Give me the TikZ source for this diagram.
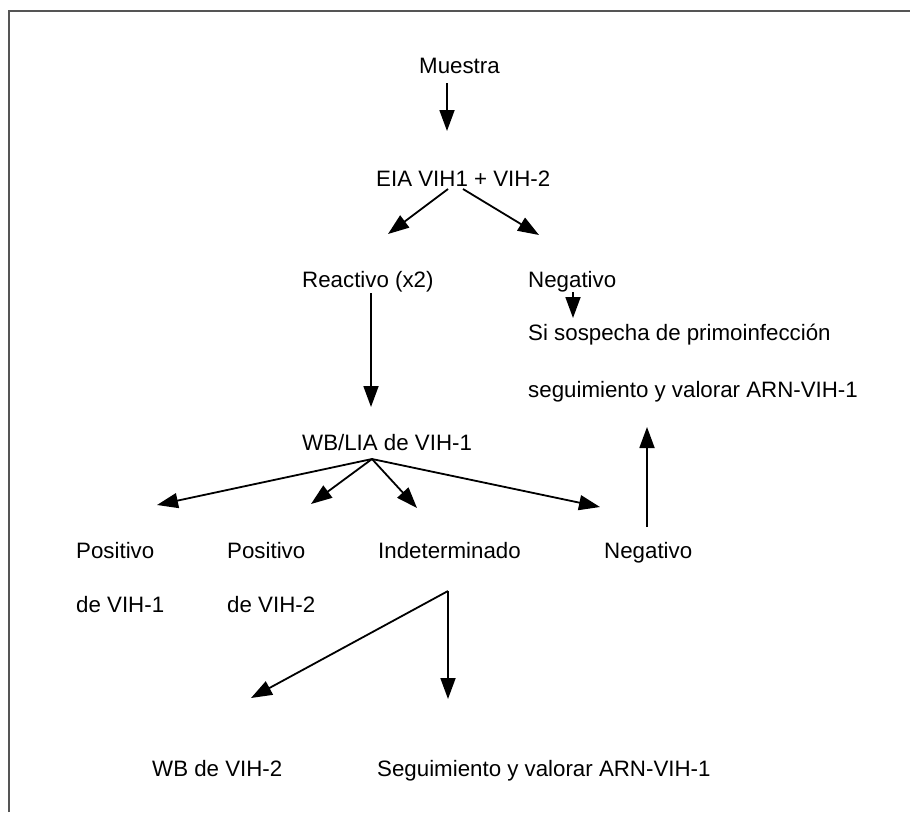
\documentclass[tikz,border=0pt]{standalone}
\usepackage{fontspec}
\setmainfont{Liberation Sans}
\usetikzlibrary{arrows.meta}
\definecolor{frame}{HTML}{555555}
\begin{document}
\begin{tikzpicture}[x=1pt,y=-1pt,
  lbl/.style={anchor=base west,inner sep=0pt,font=\fontsize{22.3}{26}\selectfont},
  arr/.style={line width=1.8pt,-{Triangle[length=21pt,width=15pt]}},
  framed/.style={line width=2pt,draw=frame}]
\useasboundingbox (0,0) rectangle (910,812);
\draw[framed] (8.5,812) -- (8.5,10.5) -- (910,10.5);
% texts
\node[lbl] (muestra) at (419,73) {Muestra};
\node[lbl] (eia) at (376,186) {EIA VIH1 + VIH-2};
\node[lbl] (reactivo) at (302,287) {Reactivo (x2)};
\node[lbl] (neg1) at (528,287) {Negativo};
\node[lbl] (sisos) at (528,340) {Si sospecha de primoinfección};
\node[lbl] (seg1) at (528,397) {seguimiento y valorar ARN-VIH-1};
\node[lbl] (wblia) at (302,450) {WB/LIA de VIH-1};
\node[lbl] (pos1) at (76,558) {Positivo};
\node[lbl] (pos1b) at (76,612) {de VIH-1};
\node[lbl] (pos2) at (227,558) {Positivo};
\node[lbl] (pos2b) at (227,612) {de VIH-2};
\node[lbl] (indet) at (378,558) {Indeterminado};
\node[lbl] (neg2) at (604,558) {Negativo};
\node[lbl] (wb2) at (152,776) {WB de VIH-2};
\node[lbl] (seg2) at (377,776) {Seguimiento y valorar ARN-VIH-1};
% connector ends
\coordinate (mS) at (447,83);  \coordinate (eN) at (447,131);
\coordinate (eS1) at (448,189); \coordinate (rN) at (388,234);
\coordinate (eS2) at (463,189); \coordinate (nN) at (539,235);
\coordinate (nS) at (573,292); \coordinate (sN) at (573,318);
\coordinate (rS) at (371,293); \coordinate (wN) at (371,407);
\coordinate (wS) at (372,459);
\coordinate (p1N) at (157,505); \coordinate (p2N) at (311,504);
\coordinate (iN) at (417,508); \coordinate (n2N) at (600,507);
\coordinate (n2up) at (647,527); \coordinate (segS) at (647,427);
\coordinate (iS) at (448,591);
\coordinate (wb2N) at (251,698); \coordinate (seg2N) at (448,699);
% connectors
\draw[arr] (mS) -- (eN);
\draw[arr] (eS1) -- (rN);
\draw[arr] (eS2) -- (nN);
\draw[arr] (nS) -- (sN);
\draw[arr] (rS) -- (wN);
\draw[arr] (wS) -- (p1N);
\draw[arr] (wS) -- (p2N);
\draw[arr] (wS) -- (iN);
\draw[arr] (wS) -- (n2N);
\draw[arr] (n2up) -- (segS);
\draw[arr] (iS) -- (wb2N);
\draw[arr] (iS) -- (seg2N);
\end{tikzpicture}
\end{document}
